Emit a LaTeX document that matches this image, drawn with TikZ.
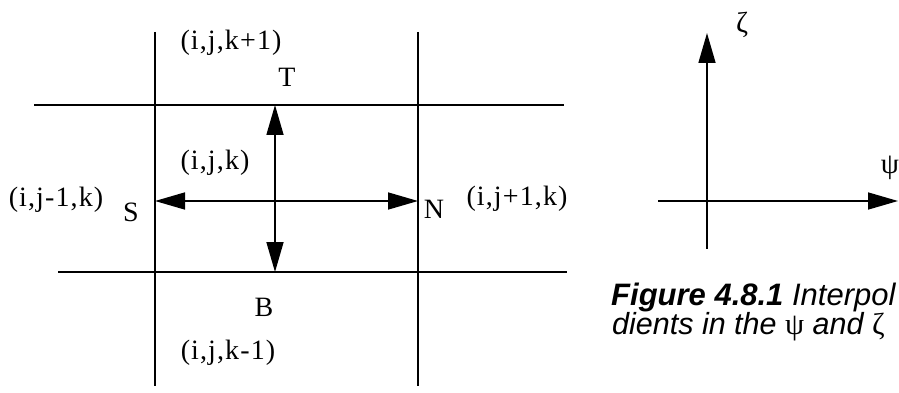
\documentclass[tikz,border=0pt]{standalone}
\usepackage{fontspec}
\setmainfont{Liberation Serif}[LetterSpace=4]
\newfontfamily\capfont{Liberation Sans}
\newfontfamily\grkfont{Liberation Serif}
\usetikzlibrary{arrows.meta}

\tikzset{
  lbl/.style={inner sep=0pt, font=\fontsize{28}{30}\selectfont},
  grk/.style={inner sep=0pt, font=\grkfont\fontsize{29}{30}\selectfont},
  captxt/.style={inner sep=0pt, anchor=base west, font=\capfont\fontsize{31}{32}\selectfont},
  cellline/.style={line width=1.6pt},
  flux/.style={line width=1.6pt, -{Triangle[length=30pt,width=17pt]}},
}

\begin{document}
\begin{tikzpicture}[x=1pt, y=-1pt, line cap=butt]
  \useasboundingbox (0,0) rectangle (899,393);
  % cell lines
  \coordinate (W1) at (155,32);
  \coordinate (W2) at (155,386);
  \coordinate (E1) at (418,32);
  \coordinate (E2) at (418,386);
  \coordinate (T1) at (34,105);
  \coordinate (T2) at (564,105);
  \coordinate (B1) at (58,272);
  \coordinate (B2) at (567,272);
  \draw[cellline] (W1) -- (W2);
  \draw[cellline] (E1) -- (E2);
  \draw[cellline] (T1) -- (T2);
  \draw[cellline] (B1) -- (B2);
  % faces of cell (i,j,k)
  \coordinate (P) at (275,201);
  \coordinate (Pt) at (275,105);
  \coordinate (Pb) at (275,272);
  \coordinate (Ps) at (155,201);
  \coordinate (Pn) at (418,201);
  \draw[flux] (P) -- (Pt);
  \draw[flux] (P) -- (Pb);
  \draw[flux] (P) -- (Ps);
  \draw[flux] (P) -- (Pn);
  % labels
  \node[lbl] (top)   at (231,43)  {(i,j,k+1)};
  \node[lbl] (lt)    at (287,77)  {T};
  \node[lbl] (mid)   at (215,163) {(i,j,k)};
  \node[lbl] (south) at (56,200)  {(i,j-1,k)};
  \node[lbl] (ls)    at (131,212) {S};
  \node[lbl] (ln)    at (434,209) {N};
  \node[lbl] (north) at (517,199) {(i,j+1,k)};
  \node[lbl] (lb)    at (264,307) {B};
  \node[lbl] (bot)   at (228,353) {(i,j,k-1)};
  % axes
  \coordinate (O) at (707,201);
  \coordinate (Zt) at (707,33);
  \coordinate (Zb) at (707,249);
  \coordinate (Yl) at (658,201);
  \coordinate (Yr) at (898,201);
  \draw[cellline] (O) -- (Zb);
  \draw[cellline] (O) -- (Yl);
  \draw[flux] (O) -- (Zt);
  \draw[flux] (O) -- (Yr);
  \node[grk] (zeta) at (742,25) {ζ};
  \node[grk] (psi)  at (890,168) {ψ};
  % caption
  \node[captxt] (cap1) at (611,305) {\bfseries\itshape Figure 4.8.1 \mdseries Interpol};
  \node[captxt, font=\capfont\fontsize{30.5}{32}\selectfont] (cap2) at (612,334) {\itshape dients in the {\grkfont\upshape ψ} and {\grkfont\upshape ζ}};
\end{tikzpicture}
\end{document}
